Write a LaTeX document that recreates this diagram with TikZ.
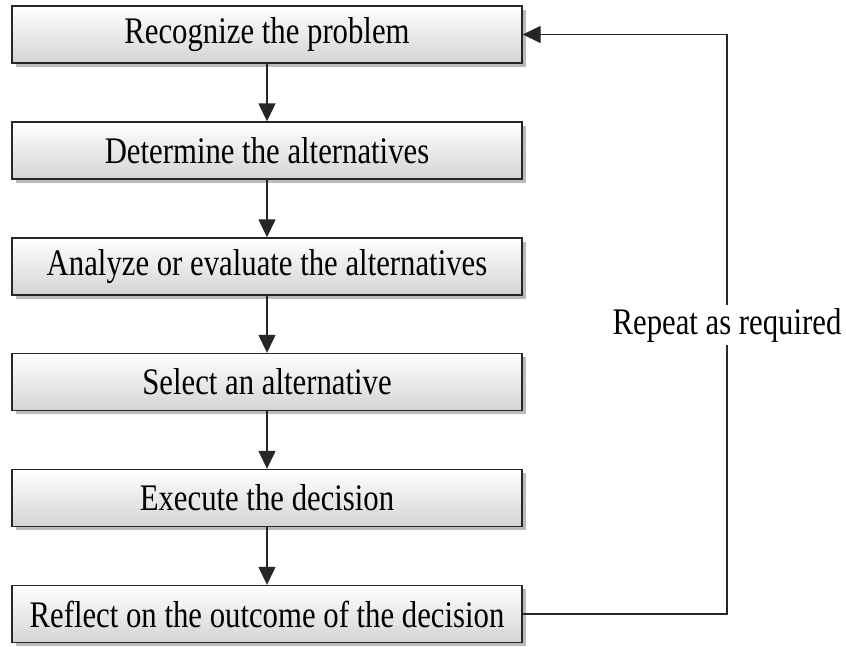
\documentclass[tikz,border=0pt]{standalone}
\usepackage{fontspec}
\setmainfont{Liberation Serif}[FakeStretch=0.82]
\usetikzlibrary{arrows.meta,shadows}
\begin{document}
\begin{tikzpicture}[x=1pt,y=-1pt,
  stepbox/.style={draw=black!85, line width=1.4pt, top color=white, bottom color=black!17,
    minimum width=510pt, minimum height=57pt, inner sep=0pt,
    font=\fontsize{37.5}{40}\selectfont,
    drop shadow={shadow xshift=3.5pt, shadow yshift=-3.5pt, fill=black!45, opacity=0.6}},
  conn/.style={line width=1.4pt, draw=black!85},
  tip/.style={-{Triangle[length=18pt,width=17pt]}}]
\useasboundingbox (0,0) rectangle (846,646);
\node[stepbox] (s1) at (267,34.5) {Recognize the problem};
\node[stepbox] (s2) at (267,150.5) {Determine the alternatives};
\node[stepbox] (s3) at (267,266.5) {Analyze or evaluate the alternatives};
\node[stepbox] (s4) at (267,382) {Select an alternative};
\node[stepbox] (s5) at (267,498) {Execute the decision};
\node[stepbox] (s6) at (267,614) {Reflect on the outcome of the decision};
\foreach \a/\b in {s1/s2,s2/s3,s3/s4,s4/s5,s5/s6}
  \draw[conn,tip] (\a.south) -- (\b.north);
\coordinate (cb) at (727,614);
\coordinate (ct) at (727,34.5);
\node[fill=white, inner sep=3pt, font=\fontsize{37.5}{40}\selectfont] (lbl) at (727,325) {Repeat as required};
\draw[conn] (s6.east) -- (cb) -- (lbl.south);
\draw[conn,tip] (lbl.north) -- (ct) -- (s1.east);
\end{tikzpicture}
\end{document}
